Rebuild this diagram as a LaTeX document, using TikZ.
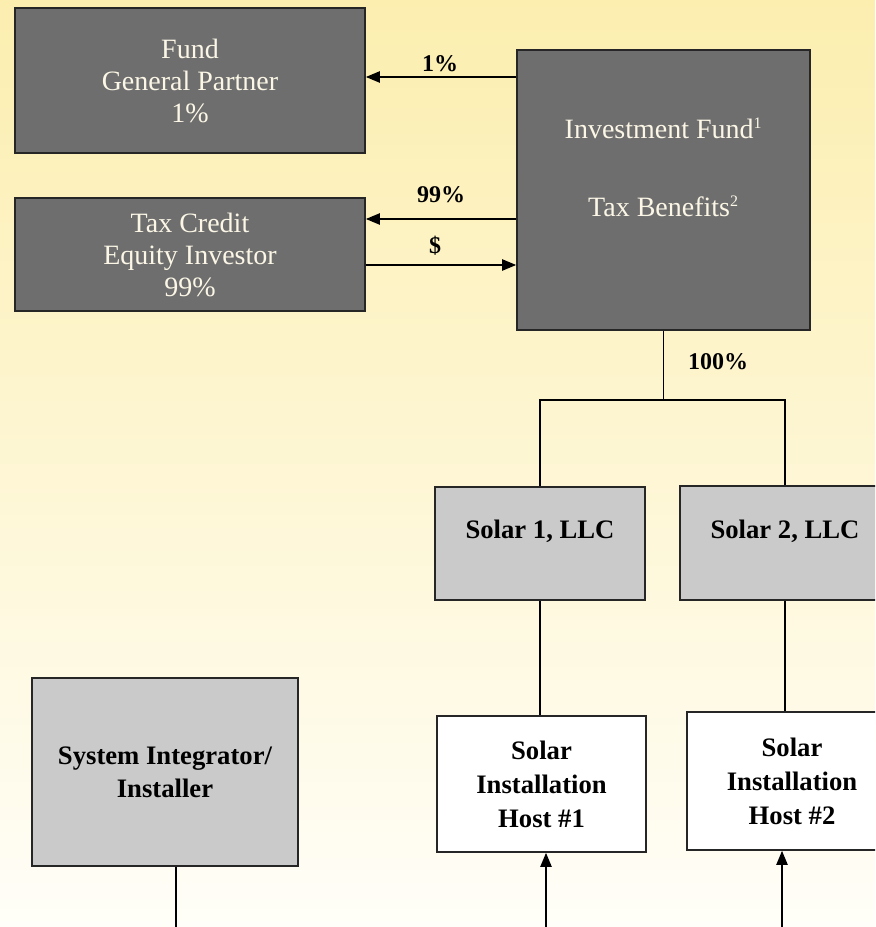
\documentclass[tikz,border=0pt]{standalone}
\usepackage{fontspec}
\setmainfont{Liberation Serif}
\usetikzlibrary{arrows.meta,calc}
\definecolor{bgtop}{HTML}{FCEEAF}
\definecolor{bgbot}{HTML}{FFFEF8}
\definecolor{darkfill}{HTML}{6E6E6E}
\definecolor{lightfill}{HTML}{CACACA}
\definecolor{cream}{HTML}{FBF6E6}
\begin{document}
\begin{tikzpicture}[x=0.75pt,y=-0.75pt,
  boxbase/.style={draw=black!85, line width=1.3pt, inner sep=0pt, align=center},
  darkbox/.style={boxbase, fill=darkfill, text=cream, font=\fontsize{21}{24}\selectfont},
  lightbox/.style={boxbase, fill=lightfill, text=black, font=\bfseries\fontsize{20}{25}\selectfont},
  whitebox/.style={boxbase, fill=white, text=black, font=\bfseries\fontsize{20}{25.5}\selectfont},
  conn/.style={line width=1pt, draw=black},
  arr/.style={conn, -{Triangle[length=10.5pt,width=8.5pt]}},
  lbl/.style={font=\bfseries\fontsize{18}{22}\selectfont, text=black, inner sep=1pt}]
\useasboundingbox (0,0) rectangle (875,927);
\clip (0,0) rectangle (875,927);
\fill[top color=bgtop, bottom color=bgbot] (0,0) rectangle (875,927);

% top boxes
\node[darkbox, minimum width=262.5pt, minimum height=108.75pt] (gp) at (190,80.5)
  {Fund\\General Partner\\1\%};
\node[darkbox, minimum width=262.5pt, minimum height=84.75pt] (tc) at (190,254.5)
  {Tax Credit\\Equity Investor\\99\%};
\node[darkbox, minimum width=219.75pt, minimum height=210pt] (if) at (663.5,190) {};
\node[text=cream, font=\fontsize{21}{24}\selectfont, inner sep=0pt] (ift1) at (663.5,128)
  {Investment Fund\textsuperscript{\fontsize{12}{12}\selectfont 1}};
\node[text=cream, font=\fontsize{21}{24}\selectfont, inner sep=0pt] (ift2) at (663.5,206)
  {Tax Benefits\textsuperscript{\fontsize{12}{12}\selectfont 2}};

% arrows between top boxes
\draw[arr] (if.west |- 0,77) -- (gp.east |- 0,77);
\node[lbl] (l1) at (440,64) {1\%};
\draw[arr] (if.west |- 0,219) -- (tc.east |- 0,219);
\node[lbl] (l99) at (441,195) {99\%};
\draw[arr] (tc.east |- 0,265) -- (if.west |- 0,265);
\node[lbl] (ld) at (435,246) {\$};

% solar LLCs
\node[lightbox, minimum width=157.5pt, minimum height=84.75pt] (s1) at (540,543.5) {Solar 1, LLC\\[-4pt]\phantom{x}};
\node[lightbox, minimum width=157.5pt, minimum height=85.5pt] (s2) at (785,543) {Solar 2, LLC\\[-4pt]\phantom{x}};

\coordinate (j) at (if.south |- 0,400);
\draw[conn] (if.south) -- (j);
\draw[conn] (s1.north) |- (j) -| (s2.north);
\node[lbl] (l100) at (718,362) {100\%};

% hosts
\node[whitebox, minimum width=156.75pt, minimum height=102pt] (h1) at (541.5,784)
  {Solar\\Installation\\Host \#1};
\node[whitebox, minimum width=157.5pt, minimum height=103.5pt] (h2) at (792,781)
  {Solar\\Installation\\Host \#2};
\draw[conn] (s1.south) -- (s1.south |- h1.north);
\draw[conn] (s2.south) -- (s2.south |- h2.north);

\coordinate (b1) at (546,935);
\coordinate (b2) at (782,935);
\draw[arr] (b1) -- (b1 |- h1.south);
\draw[arr] (b2) -- (b2 |- h2.south);

% system integrator
\node[lightbox, minimum width=199.5pt, minimum height=141pt] (si) at (165,772)
  {System Integrator/\\Installer};
\coordinate (b0) at (176,935);
\draw[conn] (b0 |- si.south) -- (b0);
\end{tikzpicture}
\end{document}
